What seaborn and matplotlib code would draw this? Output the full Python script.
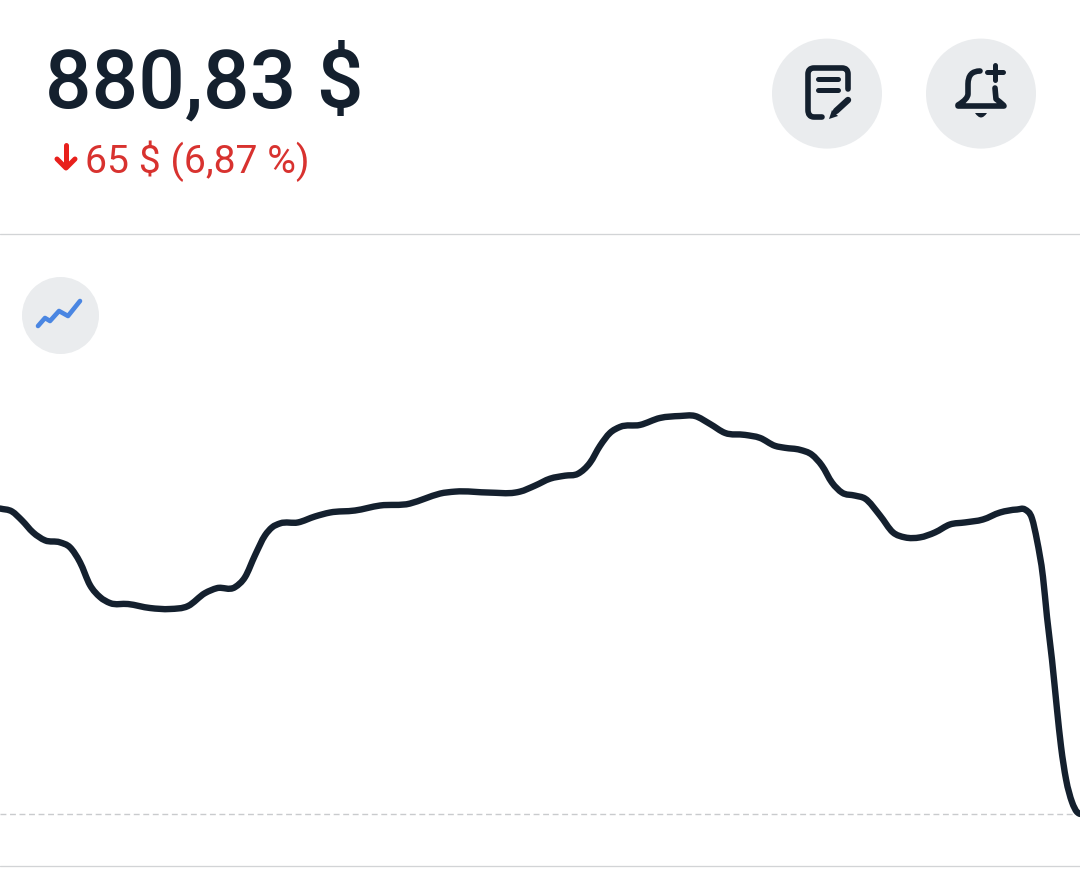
import matplotlib
matplotlib.use("Agg")
import matplotlib.pyplot as plt
from matplotlib.patches import Circle, PathPatch, Polygon
from matplotlib.path import Path
import numpy as np
import pandas as pd
import seaborn as sns

# price curve
t = [0, 12, 22, 33, 45, 60, 70, 80, 90, 100, 110, 128, 150, 170, 188, 205, 217, 235, 245, 255, 265,
     272, 280, 298, 315, 330, 355, 380, 410, 425, 440, 455, 490, 515, 520, 535, 550, 565, 578, 590,
     600, 610, 620, 640, 660, 680, 695, 710, 725, 745, 760, 775, 785, 800, 812, 822, 832, 842, 855,
     865, 880, 893, 905, 920, 935, 950, 965, 983, 1000, 1017, 1025, 1032, 1037, 1043, 1047, 1052,
     1057, 1061, 1066, 1072, 1077, 1080]
price = [945.83, 945.20, 943.29, 940.75, 939.06, 938.63, 937.57, 934.40, 929.53, 926.99, 925.72,
         925.51, 924.66, 924.45, 925.08, 927.83, 928.89, 929.10, 931.22, 935.88, 940.11,
         941.81, 942.66, 942.87, 944.14, 944.98, 945.41, 946.47, 946.89, 947.95, 949.01, 949.43,
         949.22, 949.22, 949.43, 950.70, 952.18, 952.82, 953.24, 955.57,
         959.17, 961.92, 963.19, 963.62, 965.10, 965.52, 965.52, 963.83, 961.92, 961.50, 960.86,
         959.17, 958.75, 958.32, 957.26, 954.94, 951.34, 949.22, 948.58,
         947.95, 944.35, 940.75, 939.69, 939.69, 940.75, 942.44, 942.87, 943.50, 944.98, 945.62,
         945.62, 943.71, 939.06, 931.22, 922.75, 913.65,
         903.06, 895.23, 888.24, 883.37, 881.25, 880.83]
close_price = 880.83
price_text = "880,83 $"
change_text = "65 $ (6,87 %)"

NAVY = "#14202e"
RED = "#d8322f"
BRIGHT_RED = "#e8201c"
CHIP = "#eaecee"
RULE = "#d2d4d6"
BLUE = "#4a86e2"
PX = 0.72  # one pixel in points at dpi 100

sns.set_theme(style="white")
plt.rcParams["font.family"] = ["Roboto", "DejaVu Sans"]

W, H = 1080, 887
fig = plt.figure(figsize=(W / 100, H / 100), dpi=100, facecolor="white")

# chart area between the two rules (y 235 to 867 in the picture)
ax = fig.add_axes([0, 1 - 867 / H, 1, (867 - 235) / H])
df = pd.DataFrame({"t": t, "price": price})
ax.axhline(close_price, color="#c9cbcd", lw=1.4 * PX, dashes=(4.2, 2.6), zorder=1)
sns.lineplot(data=df, x="t", y="price", ax=ax, color=NAVY, lw=3 * PX, sort=False,
             errorbar=None, solid_joinstyle="round", solid_capstyle="round", zorder=3)

# the app draws a smoothed line: same points, joined with bezier segments
xs, ys = ax.lines[-1].get_data()
xs = np.asarray(xs, dtype=float)
ys = np.asarray(ys, dtype=float)
slope = np.gradient(ys, xs)
verts = [(xs[0], ys[0])]
codes = [Path.MOVETO]
for i in range(len(xs) - 1):
    dx = (xs[i + 1] - xs[i]) / 3
    verts += [(xs[i] + dx, ys[i] + slope[i] * dx),
              (xs[i + 1] - dx, ys[i + 1] - slope[i + 1] * dx),
              (xs[i + 1], ys[i + 1])]
    codes += [Path.CURVE4] * 3
ax.add_patch(PathPatch(Path(verts, codes), fc="none", ec=NAVY, lw=6.4 * PX,
                       capstyle="round", joinstyle="round", zorder=4))

ax.set_xlim(0, 1080)
ax.set_ylim(869.76, 1004.25)
ax.set_xlabel("")
ax.set_ylabel("")
ax.set_xticks([])
ax.set_yticks([])
sns.despine(ax=ax, left=True, right=True, top=True, bottom=True)

# header and icons, in picture pixels
ui = fig.add_axes([0, 0, 1, 1], facecolor="none")
ui.set_xlim(0, W)
ui.set_ylim(H, 0)
ui.axis("off")

ui.plot([0, W], [234.5, 234.5], color=RULE, lw=1.3 * PX)
ui.plot([0, W], [867.5, 867.5], color=RULE, lw=1.3 * PX)

ui.text(45, 108, price_text, fontsize=59.2, fontweight="medium", color=NAVY, ha="left", va="baseline")
ui.text(85, 173, change_text, fontsize=28.2, color=RED, ha="left", va="baseline")

# down arrow
ui.plot([66, 66], [146, 167], color=BRIGHT_RED, lw=5 * PX, solid_capstyle="round")
ui.plot([57, 66, 75], [160, 169, 160], color=BRIGHT_RED, lw=5 * PX,
        solid_capstyle="round", solid_joinstyle="round")

ui.add_patch(Circle((827, 94.6), 55, fc=CHIP, ec="none"))
ui.add_patch(Circle((981, 94.6), 55, fc=CHIP, ec="none"))
ui.add_patch(Circle((60.5, 316.5), 38.5, fc=CHIP, ec="none"))

# trend icon
ui.plot([38, 45, 50, 59, 68, 80], [327, 319, 322, 312, 317, 302], color=BLUE, lw=4.6 * PX,
        solid_capstyle="round", solid_joinstyle="round")


def stroke(verts, codes, lw):
    ui.add_patch(PathPatch(Path(verts, codes), fc="none", ec=NAVY, lw=lw * PX,
                           capstyle="round", joinstyle="round"))


M, L, C3 = Path.MOVETO, Path.LINETO, Path.CURVE3

# note icon
stroke([(848, 90), (848, 75), (848, 69), (842, 69), (814, 69), (808, 69), (808, 75), (808, 111),
        (808, 118), (814, 118), (822, 118)],
       [M, L, C3, C3, L, C3, C3, L, C3, C3, L], 5.6)
ui.plot([818, 838], [80, 80], color=NAVY, lw=5 * PX, solid_capstyle="round")
ui.plot([818, 838], [91, 91], color=NAVY, lw=5 * PX, solid_capstyle="round")
ui.plot([836, 848], [112, 101], color=NAVY, lw=6.4 * PX, solid_capstyle="round")
ui.add_patch(Polygon([(829, 120), (832, 111), (838, 117)], fc=NAVY, ec="none"))

# bell icon
stroke([(980, 72), (968, 72), (968, 85), (968, 95), (968, 100), (958, 106), (958, 107), (1004, 107),
        (1004, 106), (996, 100), (995.5, 95), (995, 89)],
       [M, C3, C3, L, C3, C3, L, L, C3, C3, C3, C3], 5.6)
ui.plot([995, 995], [66, 81], color=NAVY, lw=5 * PX, solid_capstyle="round")
ui.plot([987, 1003], [73, 73], color=NAVY, lw=5 * PX, solid_capstyle="round")
ui.add_patch(PathPatch(Path([(975, 114), (981, 123), (987, 114), (975, 114)], [M, C3, C3, L]),
                       fc=NAVY, ec="none"))

fig.savefig("out.png", dpi=100, facecolor="white")
